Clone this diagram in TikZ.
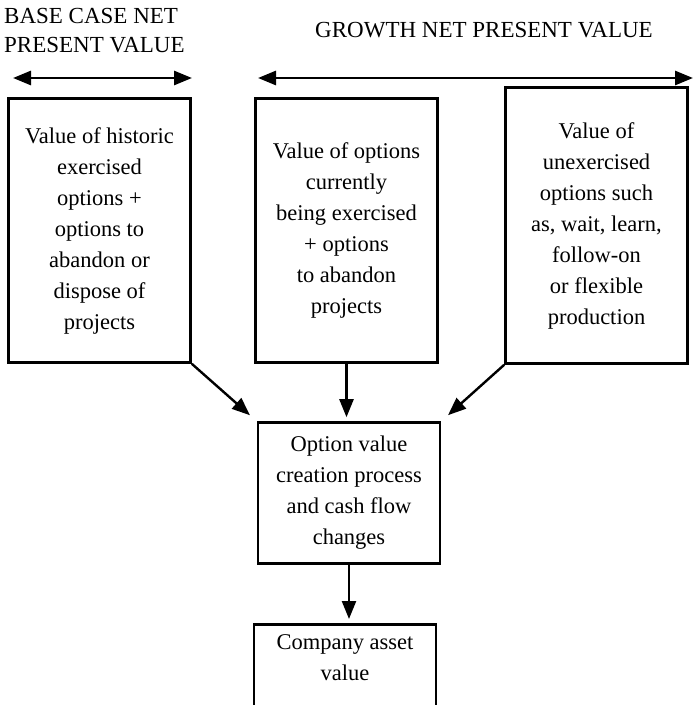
\documentclass[tikz,border=0pt]{standalone}
\usepackage{fontspec}
\setmainfont{Liberation Serif}
\usepackage{tikz}
\usetikzlibrary{positioning, arrows.meta, calc}
\newcommand{\boxfont}{\fontsize{22.5}{31}\selectfont}
\newcommand{\hdrfont}{\fontsize{23}{29}\selectfont}

\begin{document}
\begin{tikzpicture}[x=1pt, y=-1pt, >={Triangle[length=18pt,width=14pt]},
  box/.style={draw, rectangle, line width=2.6pt, minimum width=182pt, inner sep=0pt, align=center, font=\boxfont},
  hdr/.style={inner sep=0pt, font=\hdrfont}]
  \clip (0,0) rectangle (693,705);

  % headers over the columns
  \node[hdr, align=left, anchor=west] (basehdr) at (4,31) {BASE CASE NET\\PRESENT VALUE};
  \node[hdr] (growhdr) at (484,30) {GROWTH NET PRESENT VALUE};
  \coordinate (base1) at (13,78);
  \coordinate (base2) at (192,78);
  \coordinate (grow1) at (258,78);
  \coordinate (grow2) at (693,78);

  % value boxes
  \node[box, minimum height=264pt] (hist) at (99.5,230.5) {Value of historic\\exercised\\options +\\options to\\abandon or\\dispose of\\projects};
  \node[box, minimum height=264pt] (curr) at (346.5,230.5) {Value of options\\currently\\being exercised\\+ options\\to abandon\\projects};
  \node[box, minimum height=276pt] (unex) at (596.5,225.5) {Value of\\unexercised\\options such\\as, wait, learn,\\follow-on\\or flexible\\production};
  \node[box, minimum height=141pt] (proc) at (349,493) {Option value\\creation process\\and cash flow\\changes};
  \node[box, anchor=north, inner ysep=10pt, text depth=100pt] (asset) at (345,623) {Company asset\\value};

  \path[<->, line width=2.8pt]
    (base1) edge (base2)
    (grow1) edge (grow2);
  \path[->, line width=2.4pt]
    (hist.south east) edge[shorten >=9pt] (proc.north west)
    (curr.south) edge[shorten >=4pt] (curr.south |- proc.north)
    (unex.south west) edge[shorten >=9pt] (proc.north east)
    (proc.south) edge[shorten >=4pt] (proc.south |- asset.north);
\end{tikzpicture}
\end{document}
